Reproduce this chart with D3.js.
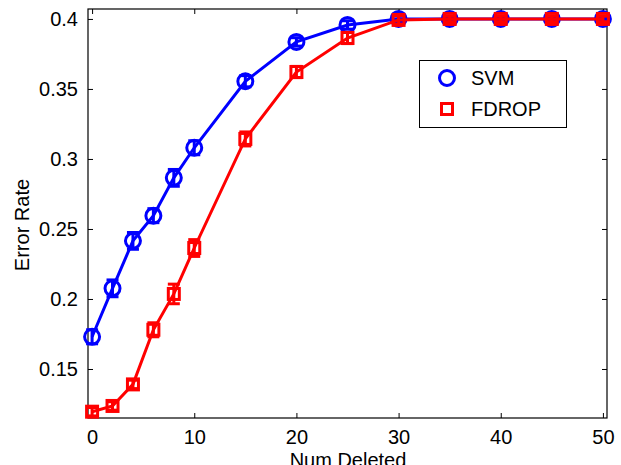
<!DOCTYPE html>
<html lang="en">
<head>
<meta charset="UTF-8">
<title>Error Rate vs Num Deleted</title>
<script src="https://d3js.org/d3.v7.min.js"></script>
<style>
    body { margin: 0; background: #fff; }
    text { font-family: "Liberation Sans", Arial, Helvetica, sans-serif; fill: #000; }
</style>
</head>
<body>
<svg width="621" height="465"></svg>
<script>
// data
var numDeleted = [0, 2, 4, 6, 8, 10, 15, 20, 25, 30, 35, 40, 45, 50];
var svmRate    = [0.173, 0.2076, 0.2415, 0.2595, 0.2865, 0.308, 0.3555, 0.3836, 0.3957, 0.4, 0.4, 0.4, 0.4, 0.4];
var svmErr     = [0.005, 0.006, 0.006, 0.005, 0.006, 0.005, 0.004, 0.003, 0.003, 0.002, 0.001, 0.001, 0.001, 0.001];
var fdropRate  = [0.1195, 0.1236, 0.139, 0.178, 0.2036, 0.2364, 0.3143, 0.3621, 0.3864, 0.3993, 0.4, 0.4, 0.4, 0.4];
var fdropErr   = [0.003, 0.003, 0.003, 0.005, 0.007, 0.006, 0.005, 0.004, 0.004, 0.003, 0.002, 0.002, 0.002, 0.002];
var xTicks = [0, 10, 20, 30, 40, 50];
var yTicks = [0.15, 0.2, 0.25, 0.3, 0.35, 0.4];

var svg = d3.select("svg");
var plotLeft = 88, plotRight = 607, plotTop = 9, plotBottom = 418;

var x = d3.scaleLinear().domain([-0.4, 50.4]).range([plotLeft, plotRight]);
var y = d3.scaleLinear().domain([0.115, 0.4071]).range([plotBottom, plotTop]);

// axes: ticks inward on all four sides, MATLAB style
svg.append("g").attr("transform", "translate(0," + plotBottom + ")")
    .call(d3.axisBottom(x).tickValues(xTicks).tickSizeInner(-5).tickSizeOuter(0).tickPadding(12).tickFormat(d3.format("d")))
    .call(function(g) {
        g.select(".domain").remove();
        g.selectAll("text").style("font-size", "20px").attr("dy", "0.71em");
    });
svg.append("g").attr("transform", "translate(0," + plotTop + ")")
    .call(d3.axisTop(x).tickValues(xTicks).tickSizeInner(-5).tickSizeOuter(0).tickFormat(""))
    .call(function(g) { g.select(".domain").remove(); });
svg.append("g").attr("transform", "translate(" + plotLeft + ",0)")
    .call(d3.axisLeft(y).tickValues(yTicks).tickSizeInner(-5).tickSizeOuter(0).tickPadding(10).tickFormat(d3.format("")))
    .call(function(g) {
        g.select(".domain").remove();
        g.selectAll("text").style("font-size", "20px");
    });
svg.append("g").attr("transform", "translate(" + plotRight + ",0)")
    .call(d3.axisRight(y).tickValues(yTicks).tickSizeInner(-5).tickSizeOuter(0).tickFormat(""))
    .call(function(g) { g.select(".domain").remove(); });

svg.selectAll(".tick line").attr("stroke", "#000");

svg.append("rect")
    .attr("x", plotLeft).attr("y", plotTop)
    .attr("width", plotRight - plotLeft).attr("height", plotBottom - plotTop)
    .attr("fill", "none").attr("stroke", "#000").attr("stroke-width", 1.2);

// axis labels
svg.append("text")
    .attr("x", (plotLeft + plotRight) / 2 + 0.5).attr("y", 467)
    .attr("text-anchor", "middle").style("font-size", "20px")
    .text("Num Deleted");
svg.append("text")
    .attr("transform", "translate(29,225) rotate(-90)")
    .attr("text-anchor", "middle").style("font-size", "20px")
    .text("Error Rate");

function drawSeries(vals, errs, color, shape) {
    var pts = numDeleted.map(function(d, i) { return { x: d, y: vals[i], e: errs[i] }; });
    var g = svg.append("g");

    g.append("path").datum(pts)
        .attr("fill", "none").attr("stroke", color).attr("stroke-width", 3)
        .attr("d", d3.line().x(function(d) { return x(d.x); }).y(function(d) { return y(d.y); }));

    var eb = g.selectAll(".eb").data(pts).enter().append("g")
        .attr("stroke", color).attr("stroke-width", 3);
    eb.append("line")
        .attr("x1", function(d) { return x(d.x); }).attr("x2", function(d) { return x(d.x); })
        .attr("y1", function(d) { return y(d.y - d.e); }).attr("y2", function(d) { return y(d.y + d.e); });
    eb.append("line")
        .attr("x1", function(d) { return x(d.x) - 6; }).attr("x2", function(d) { return x(d.x) + 6; })
        .attr("y1", function(d) { return y(d.y + d.e); }).attr("y2", function(d) { return y(d.y + d.e); });
    eb.append("line")
        .attr("x1", function(d) { return x(d.x) - 6; }).attr("x2", function(d) { return x(d.x) + 6; })
        .attr("y1", function(d) { return y(d.y - d.e); }).attr("y2", function(d) { return y(d.y - d.e); });

    if (shape === "circle") {
        g.selectAll(".m").data(pts).enter().append("circle")
            .attr("cx", function(d) { return x(d.x); }).attr("cy", function(d) { return y(d.y); })
            .attr("r", 7.5).attr("fill", "none").attr("stroke", color).attr("stroke-width", 3);
    } else {
        g.selectAll(".m").data(pts).enter().append("rect")
            .attr("x", function(d) { return x(d.x) - 5.5; }).attr("y", function(d) { return y(d.y) - 5.5; })
            .attr("width", 11).attr("height", 11)
            .attr("fill", "none").attr("stroke", color).attr("stroke-width", 3);
    }
}

drawSeries(svmRate, svmErr, "#0000ff", "circle");
drawSeries(fdropRate, fdropErr, "#ff0000", "square");

// legend
var lg = svg.append("g");
lg.append("rect").attr("x", 419.5).attr("y", 60.5).attr("width", 147).attr("height", 67)
    .attr("fill", "#fff").attr("stroke", "#000").attr("stroke-width", 1);
lg.append("circle").attr("cx", 447).attr("cy", 78).attr("r", 7.5)
    .attr("fill", "none").attr("stroke", "#0000ff").attr("stroke-width", 3);
lg.append("text").attr("x", 471).attr("y", 78).attr("dy", "0.35em").style("font-size", "20px").text("SVM");
lg.append("rect").attr("x", 441.5).attr("y", 103.5).attr("width", 11).attr("height", 11)
    .attr("fill", "none").attr("stroke", "#ff0000").attr("stroke-width", 3);
lg.append("text").attr("x", 471).attr("y", 109).attr("dy", "0.35em").style("font-size", "20px").text("FDROP");
</script>
</body>
</html>
